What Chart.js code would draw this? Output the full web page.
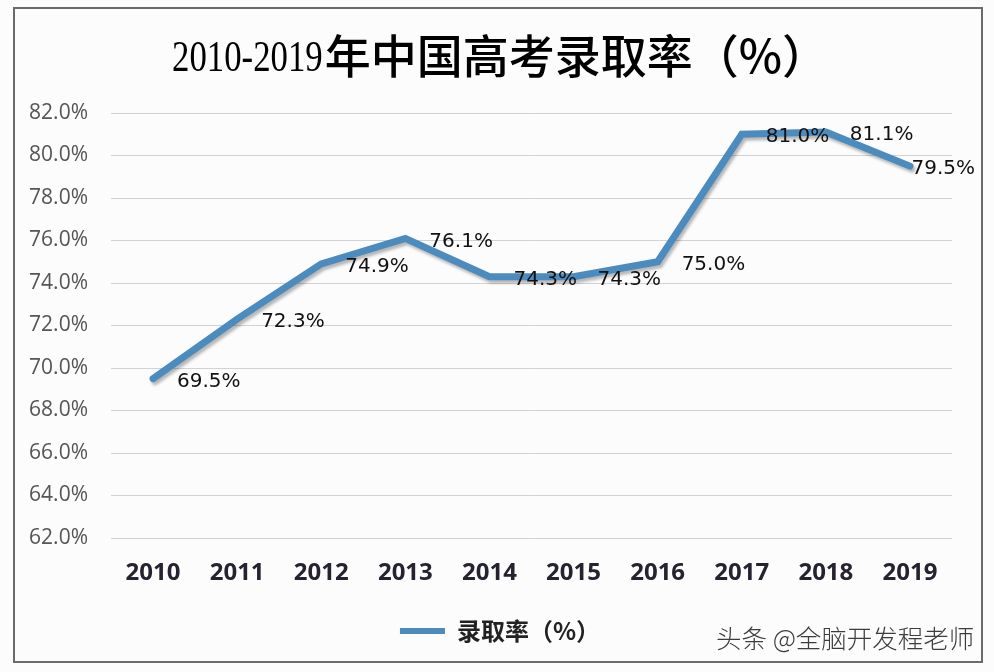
<!DOCTYPE html>
<html>
<head>
<meta charset="utf-8">
<title>2010-2019年中国高考录取率</title>
<script src="https://cdn.jsdelivr.net/npm/chart.js@4.4.1/dist/chart.umd.min.js"></script>
<style>
    html, body { margin: 0; padding: 0; background: #fdfcfd; }
    #wrap { position: relative; width: 994px; height: 672px; }
    #watermark {
        position: absolute; left: 716px; top: 624px;
        font-family: "Noto Sans CJK SC", sans-serif; font-size: 25.5px; line-height: 1;
        color: #3c3c3c; font-weight: 300; white-space: nowrap;
    }
</style>
</head>
<body>
<div id="wrap">
    <canvas id="rateChart" width="994" height="672"></canvas>
    <div id="watermark">头条 @全脑开发程老师</div>
</div>
<script>
// data
const years = ['2010', '2011', '2012', '2013', '2014', '2015', '2016', '2017', '2018', '2019'];
const admitRate = [69.5, 72.3, 74.9, 76.1, 74.3, 74.3, 75.0, 81.0, 81.1, 79.5];
const seriesName = '录取率（%）';
const titleYears = '2010-2019';
const titleText = '年中国高考录取率（%）';
const yMin = 62;
const yMax = 82;
const yStep = 2;

const lineColor = '#4b8bbd';

// line shadow, like the excel one
const shadowPlugin = {
    id: 'lineShadow',
    beforeDatasetDraw: (chart) => {
        let ctx = chart.ctx;
        ctx.save();
        ctx.shadowColor = 'rgba(0,0,0,0.28)';
        ctx.shadowBlur = 3;
        ctx.shadowOffsetX = 2;
        ctx.shadowOffsetY = 3;
    },
    afterDatasetDraw: (chart) => {
        chart.ctx.restore();
    }
};

// value labels to the right of each point
const valueLabels = {
    id: 'valueLabels',
    afterDatasetsDraw: (chart) => {
        let ctx = chart.ctx;
        let meta = chart.getDatasetMeta(0);
        ctx.save();
        ctx.font = '20px "DejaVu Sans", Verdana, sans-serif';
        ctx.fillStyle = '#111';
        ctx.textAlign = 'left';
        ctx.textBaseline = 'middle';
        meta.data.forEach((pt, i) => {
            let txt = admitRate[i].toFixed(1) + '%';
            let w = ctx.measureText(txt).width;
            let x = Math.min(pt.x + 24, chart.width - 19 - w);
            ctx.fillText(txt, x, pt.y + 3);
        });
        ctx.restore();
    }
};

// title: narrow serif years + cjk text
const titlePlugin = {
    id: 'mixTitle',
    afterDraw: (chart) => {
        let ctx = chart.ctx;
        ctx.save();
        ctx.fillStyle = '#000';
        ctx.textBaseline = 'alphabetic';
        ctx.textAlign = 'left';
        let sx = 0.79;
        ctx.font = '44px "Liberation Serif", serif';
        let w1 = ctx.measureText(titleYears).width * sx;
        ctx.font = '500 46px "Noto Sans CJK SC", sans-serif';
        let w2 = ctx.measureText(titleText).width;
        let x0 = 499 - (w1 + w2) / 2;
        let base = 71;
        ctx.font = '44px "Liberation Serif", serif';
        ctx.save();
        ctx.translate(x0, base);
        ctx.scale(sx, 1);
        ctx.fillText(titleYears, 0, 0);
        ctx.restore();
        ctx.font = '500 46px "Noto Sans CJK SC", sans-serif';
        ctx.fillText(titleText, x0 + w1 + 2, base + 2);
        ctx.restore();
    }
};

// move legend a bit right, like the reference
const legendShift = {
    id: 'legendShift',
    afterLayout: (chart) => {
        chart.legend.left += 24;
        chart.legend.right += 24;
    }
};

// outer frame
const framePlugin = {
    id: 'frame',
    afterDraw: (chart) => {
        let ctx = chart.ctx;
        ctx.save();
        ctx.strokeStyle = '#6b6b6b';
        ctx.lineWidth = 2;
        ctx.strokeRect(14, 8, 968, 654);
        ctx.restore();
    }
};

let ctx = document.getElementById('rateChart').getContext('2d');
let rateChart = new Chart(ctx, {
    type: 'line',
    data: {
        labels: years,
        datasets: [{
            label: seriesName,
            data: admitRate,
            borderColor: lineColor,
            backgroundColor: lineColor,
            borderWidth: 7,
            borderCapStyle: 'round',
            borderJoinStyle: 'miter',
            pointRadius: 0,
            tension: 0
        }]
    },
    options: {
        responsive: false,
        animation: false,
        layout: {
            padding: { left: 0, right: 42, top: 113, bottom: 19 }
        },
        plugins: {
            title: { display: false },
            legend: {
                position: 'bottom',
                labels: {
                    boxWidth: 45,
                    boxHeight: 6,
                    color: '#222',
                    padding: 10,
                    font: { family: '"Noto Sans CJK SC", sans-serif', size: 24, weight: 'bold' },
                    generateLabels: (chart) => [{
                        text: seriesName,
                        fillStyle: lineColor,
                        strokeStyle: lineColor,
                        lineWidth: 0,
                        fontColor: '#222',
                        datasetIndex: 0
                    }]
                }
            },
            tooltip: { enabled: false }
        },
        scales: {
            x: {
                offset: true,
                grid: { display: false, drawTicks: false },
                border: { display: false },
                ticks: {
                    padding: 21,
                    color: '#262230',
                    font: { family: '"Open Sans", sans-serif', size: 24, weight: 'bold', lineHeight: 1.2 }
                },
                afterFit: (scale) => { scale.height = 71; }
            },
            y: {
                min: yMin,
                max: yMax,
                grid: { color: '#d2d2d2', lineWidth: 1, drawTicks: false },
                border: { display: false },
                ticks: {
                    stepSize: yStep,
                    padding: 23,
                    color: '#555',
                    font: { family: '"Open Sans", sans-serif', size: 21 },
                    callback: (v) => v.toFixed(1) + '%'
                },
                afterFit: (scale) => { scale.width = 111; }
            }
        }
    },
    plugins: [shadowPlugin, valueLabels, titlePlugin, legendShift, framePlugin]
});
</script>
</body>
</html>
